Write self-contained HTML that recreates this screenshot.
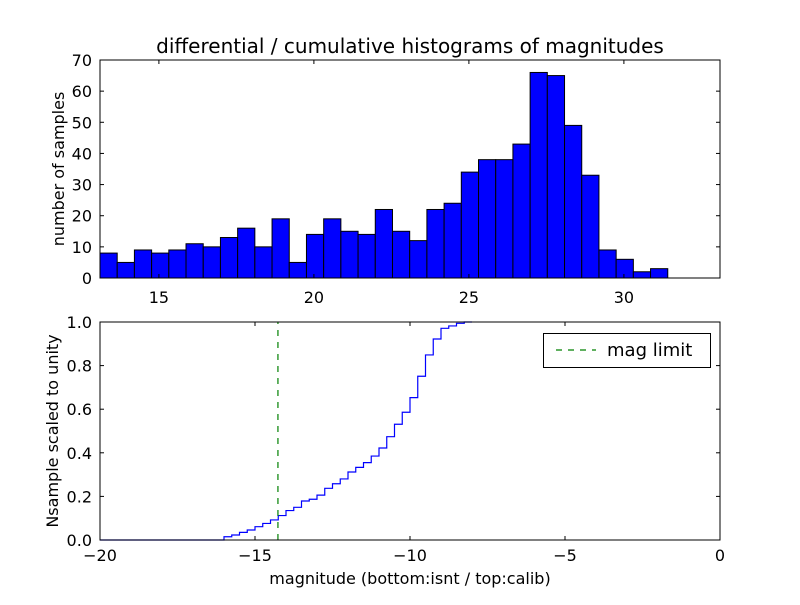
<!DOCTYPE html>
<html><head><meta charset="utf-8"><style>
body{margin:0;background:#fff}
svg text{font-family:"DejaVu Sans","Liberation Sans",sans-serif;fill:#000}
</style></head><body>
<svg id="c" width="800" height="600" xmlns="http://www.w3.org/2000/svg"></svg>
<script>
const histCounts=[8,5,9,8,9,11,10,13,16,10,19,5,14,19,15,14,22,15,12,22,24,34,38,38,43,66,65,49,33,9,6,2,3];
const histStart=13.1;
const histBinWidth=0.555;
const topXTicks=[15,20,25,30];
const topYTicks=[0,10,20,30,40,50,60,70];
const cumStart=-16;
const cumBinWidth=0.25;
const cumValues=[0.015,0.023,0.035,0.046,0.061,0.076,0.092,0.112,0.135,0.15,0.179,0.187,0.206,0.237,0.258,0.28,0.312,0.333,0.355,0.385,0.422,0.474,0.531,0.586,0.653,0.751,0.849,0.922,0.971,0.982,0.994,1.0];
const magLimit=-14.26;
const botXTicks=[-20,-15,-10,-5,0];
const botYTicks=[0,0.2,0.4,0.6,0.8,1.0];

const NS="http://www.w3.org/2000/svg";
const svg=document.getElementById('c');
function mk(t,a,p){const e=document.createElementNS(NS,t);for(const k in a)e.setAttribute(k,a[k]);(p||svg).appendChild(e);return e;}
const L=100,R=720,FS=16;
const tx=v=>L+(v-13.1)*(R-L)/(33.1-13.1);
const ty=v=>278-v*(278-60)/70;
const gTop=mk('g',{});


histCounts.forEach((c,i)=>{
  const x0=tx(histStart+i*histBinWidth),x1=tx(histStart+(i+1)*histBinWidth);
  const r=mk('rect',{x:x0,y:ty(c),width:x1-x0,height:ty(0)-ty(c),fill:'#0000ff',stroke:'#000','stroke-width':1},gTop);
  
  
});
mk('rect',{x:L,y:60,width:R-L,height:218,fill:'none',stroke:'#000','stroke-width':1},gTop);
topXTicks.forEach(v=>{const x=tx(v);mk('line',{x1:x,x2:x,y1:278,y2:274,stroke:'#000'},gTop);mk('line',{x1:x,x2:x,y1:60,y2:64,stroke:'#000'},gTop);
  const t=mk('text',{x:x,y:303,'font-size':FS,'text-anchor':'middle'},gTop);t.textContent=v;
  });
topYTicks.forEach(v=>{const y=ty(v);mk('line',{x1:L,x2:L+4,y1:y,y2:y,stroke:'#000'},gTop);mk('line',{x1:R,x2:R-4,y1:y,y2:y,stroke:'#000'},gTop);
  const t=mk('text',{x:92,y:y+6,'font-size':FS,'text-anchor':'end'},gTop);t.textContent=v;
  });
let t=mk('text',{x:410,y:53,'font-size':20,'text-anchor':'middle'});t.textContent='differential / cumulative histograms of magnitudes';

t=mk('text',{x:0,y:0,'font-size':FS,'text-anchor':'middle',transform:'translate(64,169) rotate(-90)'});t.textContent='number of samples';


const bx=v=>L+(v+20)*(R-L)/20;
const by=v=>540-v*218;
const gB=mk('g',{});


let d='M'+bx(-20)+','+by(0)+' L'+bx(cumStart)+','+by(0);
cumValues.forEach((v,i)=>{const x0=bx(cumStart+i*cumBinWidth),x1=bx(cumStart+(i+1)*cumBinWidth);d+=' L'+x0+','+by(v)+' L'+x1+','+by(v);});
const cl=mk('path',{d:d,fill:'none',stroke:'#0000ff','stroke-width':1.2},gB);

const ml=mk('line',{x1:bx(magLimit),x2:bx(magLimit),y1:by(0),y2:by(1),stroke:'#008000','stroke-width':1.2,'stroke-dasharray':'6,6'},gB);

mk('rect',{x:L,y:322,width:R-L,height:218,fill:'none',stroke:'#000','stroke-width':1},gB);
botXTicks.forEach(v=>{const x=bx(v);mk('line',{x1:x,x2:x,y1:540,y2:536,stroke:'#000'},gB);mk('line',{x1:x,x2:x,y1:322,y2:326,stroke:'#000'},gB);
  const t=mk('text',{x:x,y:561,'font-size':FS,'text-anchor':'middle'},gB);t.textContent=v===0?'0':'\u2212'+Math.abs(v);
  });
botYTicks.forEach(v=>{const y=by(v);mk('line',{x1:L,x2:L+4,y1:y,y2:y,stroke:'#000'},gB);mk('line',{x1:R,x2:R-4,y1:y,y2:y,stroke:'#000'},gB);
  const t=mk('text',{x:92,y:y+6,'font-size':FS,'text-anchor':'end'},gB);t.textContent=v.toFixed(1);
  });
t=mk('text',{x:410,y:584,'font-size':FS,'text-anchor':'middle'});t.textContent='magnitude (bottom:isnt / top:calib)';

t=mk('text',{x:0,y:0,'font-size':FS,'text-anchor':'middle',transform:'translate(58,431) rotate(-90)'});t.textContent='Nsample scaled to unity';

const lg=mk('g',{});

mk('rect',{x:543.5,y:333.5,width:167,height:34,fill:'#fff',stroke:'#000'},lg);
mk('line',{x1:556,x2:596,y1:350,y2:350,stroke:'#008000','stroke-width':1.2,'stroke-dasharray':'6,6'},lg);
t=mk('text',{x:607,y:356,'font-size':18},lg);t.textContent='mag limit';

</script>
</body></html>
